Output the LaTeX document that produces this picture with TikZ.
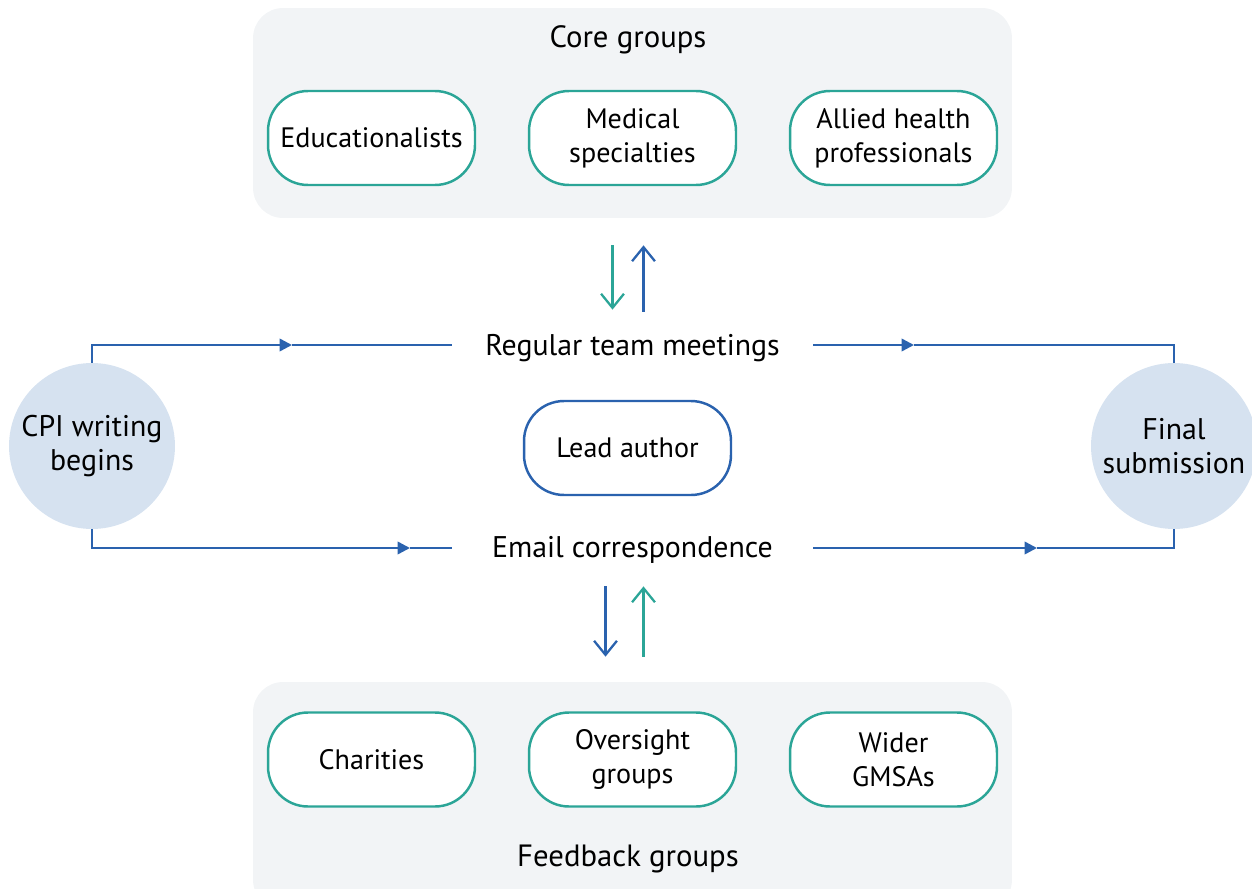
\documentclass[tikz,border=0pt]{standalone}
\usepackage{fontspec}
\setmainfont{PT Sans}
\usetikzlibrary{arrows.meta, calc}
\definecolor{tealline}{HTML}{2BA597}
\definecolor{blueline}{HTML}{2A62AE}
\definecolor{panelgray}{HTML}{F2F4F6}
\definecolor{circleblue}{HTML}{D6E2F0}
\tikzstyle{flow} = [blueline, line width=1.4pt]
\tikzstyle{vert} = [line width=1.3pt, -{Straight Barb[length=8pt,width=13pt,line width=1.3pt]}]

\begin{document}
\begin{tikzpicture}
        [
            x=0.02cm, y=-0.02cm,
            panel/.style={rectangle, fill=panelgray, rounded corners=0.6cm, minimum width=15.18cm},
            box/.style={rectangle, draw=tealline, fill=white, line width=1.4pt, rounded corners=0.8cm,
                minimum width=4.14cm, minimum height=1.88cm, align=center},
            circ/.style={circle, fill=circleblue, minimum size=3.32cm, inner sep=0pt, align=center,
                font=\fontsize{17}{19.5}\selectfont},
            label/.style={inner sep=0pt, minimum width=7.22cm, minimum height=0.6cm,
                font=\fontsize{17}{20}\selectfont},
            title/.style={font=\fontsize{17.5}{21}\selectfont},
            font=\fontsize{16}{19.3}\selectfont,
            tip/.style={-{Triangle[length=7pt,width=7pt]}},
        ]

    \useasboundingbox (0,0) rectangle (1252,889);

    % group panels
    \node[panel, minimum height=4.2cm] (core) at (632.5,113) {};
    \node[panel, minimum height=4.56cm] (feedback) at (632.5,796) {};
    \node[title] (coretitle) at (628,40) {Core groups};
    \node[title] (feedtitle) at (628,859) {Feedback groups};

    % core groups
    \node[box] (edu) at (371.5,138) {Educationalists};
    \node[box] (med) at (632.5,138) {Medical\\specialties};
    \node[box] (allied) at (893.5,138) {Allied health\\professionals};

    % feedback groups
    \node[box] (charity) at (371.5,759.5) {Charities};
    \node[box] (oversight) at (632.5,759.5) {Oversight\\groups};
    \node[box] (gmsa) at (893.5,759.5) {Wider\\GMSAs};

    % centre
    \node[box, draw=blueline] (lead) at (627.5,448) {Lead author};
    \node[label] (meet) at (632.5,348) {Regular team meetings};
    \node[label] (email) at (632.5,550) {Email correspondence};

    % start and end
    \node[circ] (cpi) at (92,446) {\raisebox{-5pt}{\parbox{3cm}{\centering CPI writing\\begins}}};
    \node[circ] (final) at (1174,446) {Final\\submission};

    % flow lines
    \coordinate (ta) at (292,345);
    \coordinate (tb) at (914,345);
    \coordinate (ba) at (410,548);
    \coordinate (bb) at (1037,548);
    \draw[flow, tip] (cpi.north) |- (ta);
    \draw[flow] (ta) -- (meet.west |- ta);
    \draw[flow, tip] (meet.east |- tb) -- (tb);
    \draw[flow] (tb) -| (final.north);
    \draw[flow, tip] (cpi.south) |- (ba);
    \draw[flow] (ba) -- (email.west |- ba);
    \draw[flow, tip] (email.east |- bb) -- (bb);
    \draw[flow] (bb) -| (final.south);

    % up and down
    \draw[vert, tealline] ($(core.south)+(-20,27)$) -- ($(meet.north)+(-20,-23)$);
    \draw[vert, blueline] ($(meet.north)+(11,-21)$) -- ($(core.south)+(11,27)$);
    \draw[vert, blueline] ($(email.south)+(-27,21)$) -- ($(feedback.north)+(-27,-25)$);
    \draw[vert, tealline] ($(feedback.north)+(11,-25)$) -- ($(email.south)+(11,21)$);
\end{tikzpicture}
\end{document}
